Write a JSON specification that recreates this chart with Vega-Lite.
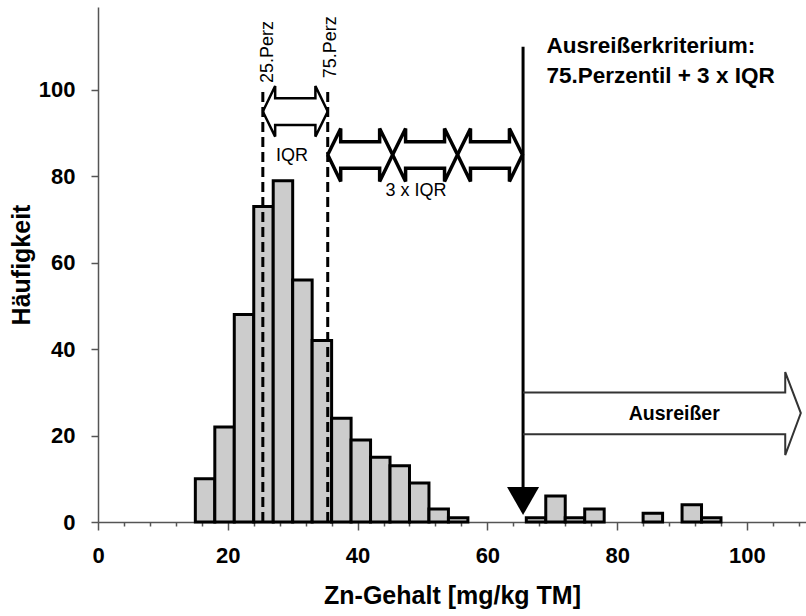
{
  "$schema": "https://vega.github.io/schema/vega-lite/v6.json",
  "autosize": {"type": "none"},
  "padding": {"left": 98, "top": 7, "right": 0, "bottom": 94},
  "width": 708,
  "height": 515,
  "background": "white",
  "config": {
    "view": {"stroke": null},
    "font": "Liberation Sans, Arial, sans-serif",
    "axis": {
      "grid": false,
      "domainColor": "#555555",
      "domainWidth": 1.5,
      "tickColor": "#555555",
      "tickWidth": 1.5,
      "labelFont": "Liberation Sans, Arial, sans-serif",
      "labelFontWeight": "bold",
      "labelFontSize": 22,
      "labelColor": "black",
      "titleFont": "Liberation Sans, Arial, sans-serif",
      "titleFontWeight": "bold",
      "titleFontSize": 25,
      "titleColor": "black"
    },
    "axisX": {"labelPadding": 15, "titlePadding": 17, "labelFlush": false, "labelOverlap": false},
    "axisY": {"tickSize": 7, "labelPadding": 16, "titlePadding": 4}
  },
  "resolve": {"axis": {"x": "independent"}},
  "datasets": {
    "hist": [
      {"lo": 15, "hi": 18, "n": 10},
      {"lo": 18, "hi": 21, "n": 22},
      {"lo": 21, "hi": 24, "n": 48},
      {"lo": 24, "hi": 27, "n": 73},
      {"lo": 27, "hi": 30, "n": 79},
      {"lo": 30, "hi": 33, "n": 56},
      {"lo": 33, "hi": 36, "n": 42},
      {"lo": 36, "hi": 39, "n": 24},
      {"lo": 39, "hi": 42, "n": 19},
      {"lo": 42, "hi": 45, "n": 15},
      {"lo": 45, "hi": 48, "n": 13},
      {"lo": 48, "hi": 51, "n": 9},
      {"lo": 51, "hi": 54, "n": 3},
      {"lo": 54, "hi": 57, "n": 1},
      {"lo": 66, "hi": 69, "n": 1},
      {"lo": 69, "hi": 72, "n": 6},
      {"lo": 72, "hi": 75, "n": 1},
      {"lo": 75, "hi": 78, "n": 3},
      {"lo": 84, "hi": 87, "n": 2},
      {"lo": 90, "hi": 93, "n": 4},
      {"lo": 93, "hi": 96, "n": 1}
    ],
    "perc": [{"x": 25.4, "y": 0, "y2": 100}, {"x": 35.4, "y": 0, "y2": 100}],
    "vline": [{"x": 65.5, "y": 8, "y2": 110}],
    "tri": [{"x": 65.5, "y": 4.86}],
    "iqr": [
      {"id": "a", "i": 0, "x": 25.4, "y": 95.0},
      {"id": "a", "i": 1, "x": 27.3, "y": 100.9},
      {"id": "a", "i": 2, "x": 27.3, "y": 98.1},
      {"id": "a", "i": 3, "x": 33.5, "y": 98.1},
      {"id": "a", "i": 4, "x": 33.5, "y": 100.9},
      {"id": "a", "i": 5, "x": 35.4, "y": 95.0},
      {"id": "a", "i": 6, "x": 33.5, "y": 89.2},
      {"id": "a", "i": 7, "x": 33.5, "y": 91.9},
      {"id": "a", "i": 8, "x": 27.3, "y": 91.9},
      {"id": "a", "i": 9, "x": 27.3, "y": 89.2},
      {"id": "a", "i": 10, "x": 25.4, "y": 95.0}
    ],
    "triple": [
      {"id": "a", "i": 0, "x": 35.4, "y": 85.0},
      {"id": "a", "i": 1, "x": 37.4, "y": 91.1},
      {"id": "a", "i": 2, "x": 37.4, "y": 88.0},
      {"id": "a", "i": 3, "x": 43.4, "y": 88.0},
      {"id": "a", "i": 4, "x": 43.4, "y": 91.1},
      {"id": "a", "i": 5, "x": 45.4, "y": 85.0},
      {"id": "a", "i": 6, "x": 43.4, "y": 78.8},
      {"id": "a", "i": 7, "x": 43.4, "y": 81.9},
      {"id": "a", "i": 8, "x": 37.4, "y": 81.9},
      {"id": "a", "i": 9, "x": 37.4, "y": 78.8},
      {"id": "a", "i": 10, "x": 35.4, "y": 85.0},
      {"id": "b", "i": 0, "x": 45.4, "y": 85.0},
      {"id": "b", "i": 1, "x": 47.4, "y": 91.1},
      {"id": "b", "i": 2, "x": 47.4, "y": 88.0},
      {"id": "b", "i": 3, "x": 53.4, "y": 88.0},
      {"id": "b", "i": 4, "x": 53.4, "y": 91.1},
      {"id": "b", "i": 5, "x": 55.4, "y": 85.0},
      {"id": "b", "i": 6, "x": 53.4, "y": 78.8},
      {"id": "b", "i": 7, "x": 53.4, "y": 81.9},
      {"id": "b", "i": 8, "x": 47.4, "y": 81.9},
      {"id": "b", "i": 9, "x": 47.4, "y": 78.8},
      {"id": "b", "i": 10, "x": 45.4, "y": 85.0},
      {"id": "c", "i": 0, "x": 55.4, "y": 85.0},
      {"id": "c", "i": 1, "x": 57.4, "y": 91.1},
      {"id": "c", "i": 2, "x": 57.4, "y": 88.0},
      {"id": "c", "i": 3, "x": 63.4, "y": 88.0},
      {"id": "c", "i": 4, "x": 63.4, "y": 91.1},
      {"id": "c", "i": 5, "x": 65.4, "y": 85.0},
      {"id": "c", "i": 6, "x": 63.4, "y": 78.8},
      {"id": "c", "i": 7, "x": 63.4, "y": 81.9},
      {"id": "c", "i": 8, "x": 57.4, "y": 81.9},
      {"id": "c", "i": 9, "x": 57.4, "y": 78.8},
      {"id": "c", "i": 10, "x": 55.4, "y": 85.0}
    ],
    "out": [
      {"id": "o", "i": 0, "x": 65.5, "y": 30.0},
      {"id": "o", "i": 1, "x": 105.9, "y": 30.0},
      {"id": "o", "i": 2, "x": 105.9, "y": 34.7},
      {"id": "o", "i": 3, "x": 108.3, "y": 25.2},
      {"id": "o", "i": 4, "x": 105.9, "y": 15.5},
      {"id": "o", "i": 5, "x": 105.9, "y": 20.3},
      {"id": "o", "i": 6, "x": 65.5, "y": 20.3}
    ],
    "perzText": [
      {"label": "25.Perz", "x": 26.2, "y": 108.8},
      {"label": "75.Perz", "x": 35.9, "y": 109.9}
    ],
    "iqrText": [
      {"label": "IQR", "x": 29.9, "y": 84.8},
      {"label": "3 x IQR", "x": 49.0, "y": 76.6}
    ],
    "critText": [
      {"label": "Ausreißerkriterium:", "x": 69.1, "y": 108.6},
      {"label": "75.Perzentil + 3 x IQR", "x": 69.1, "y": 101.6}
    ],
    "outText": [{"label": "Ausreißer", "x": 88.8, "y": 25.0}]
  },
  "layer": [
    {
      "data": {"name": "hist"},
      "mark": {"type": "bar", "fill": "#cccccc", "stroke": "black", "strokeWidth": 3},
      "encoding": {
        "x": {
          "field": "lo", "type": "quantitative",
          "scale": {"domain": [0, 109.1], "nice": false, "zero": false},
          "axis": {
            "orient": "bottom",
            "title": "Zn-Gehalt  [mg/kg TM]",
            "values": [0, 20, 40, 60, 80, 100],
            "tickSize": 8
          }
        },
        "x2": {"field": "hi"},
        "y": {
          "field": "n", "type": "quantitative",
          "scale": {"domain": [0, 119.2], "nice": false},
          "axis": {"title": "Häufigkeit", "values": [0, 20, 40, 60, 80, 100]}
        },
        "y2": {"datum": 0}
      }
    },
    {
      "data": {"name": "perc"},
      "mark": {"type": "rule", "stroke": "black", "strokeWidth": 3, "strokeDash": [10, 5]},
      "encoding": {
        "x": {
          "field": "x", "type": "quantitative",
          "axis": {
            "orient": "bottom",
            "title": null,
            "labels": false,
            "domain": false,
            "tickSize": 4,
            "values": [4, 8, 12, 16, 24, 28, 32, 36, 44, 48, 52, 56, 64, 68, 72, 76, 84, 88, 92, 96, 104, 108]
          }
        },
        "y": {"field": "y", "type": "quantitative"},
        "y2": {"field": "y2"}
      }
    },
    {
      "data": {"name": "vline"},
      "mark": {"type": "rule", "stroke": "black", "strokeWidth": 3},
      "encoding": {
        "x": {"field": "x", "type": "quantitative", "axis": null},
        "y": {"field": "y", "type": "quantitative"},
        "y2": {"field": "y2"}
      }
    },
    {
      "data": {"name": "tri"},
      "mark": {"type": "point", "shape": "M-1,-0.875L1,-0.875L0,0.875Z", "size": 1024, "filled": true, "fill": "black", "opacity": 1, "strokeWidth": 0},
      "encoding": {
        "x": {"field": "x", "type": "quantitative", "axis": null},
        "y": {"field": "y", "type": "quantitative"}
      }
    },
    {
      "data": {"name": "iqr"},
      "mark": {"type": "line", "stroke": "black", "strokeWidth": 2.5, "strokeJoin": "miter", "interpolate": "linear"},
      "encoding": {
        "x": {"field": "x", "type": "quantitative", "axis": null},
        "y": {"field": "y", "type": "quantitative"},
        "detail": {"field": "id"},
        "order": {"field": "i", "type": "quantitative"}
      }
    },
    {
      "data": {"name": "triple"},
      "mark": {"type": "line", "stroke": "black", "strokeWidth": 3.5, "strokeJoin": "miter", "interpolate": "linear"},
      "encoding": {
        "x": {"field": "x", "type": "quantitative", "axis": null},
        "y": {"field": "y", "type": "quantitative"},
        "detail": {"field": "id"},
        "order": {"field": "i", "type": "quantitative"}
      }
    },
    {
      "data": {"name": "out"},
      "mark": {"type": "line", "stroke": "#333333", "strokeWidth": 2, "strokeJoin": "miter", "interpolate": "linear"},
      "encoding": {
        "x": {"field": "x", "type": "quantitative", "axis": null},
        "y": {"field": "y", "type": "quantitative"},
        "detail": {"field": "id"},
        "order": {"field": "i", "type": "quantitative"}
      }
    },
    {
      "data": {"name": "perzText"},
      "mark": {"type": "text", "angle": 270, "align": "center", "baseline": "middle", "fontSize": 18, "fill": "black"},
      "encoding": {
        "x": {"field": "x", "type": "quantitative", "axis": null},
        "y": {"field": "y", "type": "quantitative"},
        "text": {"field": "label"}
      }
    },
    {
      "data": {"name": "iqrText"},
      "mark": {"type": "text", "align": "center", "baseline": "middle", "fontSize": 18, "fill": "black"},
      "encoding": {
        "x": {"field": "x", "type": "quantitative", "axis": null},
        "y": {"field": "y", "type": "quantitative"},
        "text": {"field": "label"}
      }
    },
    {
      "data": {"name": "critText"},
      "mark": {"type": "text", "align": "left", "baseline": "alphabetic", "fontSize": 22.5, "fontWeight": "bold", "fill": "black"},
      "encoding": {
        "x": {"field": "x", "type": "quantitative", "axis": null},
        "y": {"field": "y", "type": "quantitative"},
        "text": {"field": "label"}
      }
    },
    {
      "data": {"name": "outText"},
      "mark": {"type": "text", "align": "center", "baseline": "middle", "fontSize": 19.5, "fontWeight": "bold", "fill": "black"},
      "encoding": {
        "x": {"field": "x", "type": "quantitative", "axis": null},
        "y": {"field": "y", "type": "quantitative"},
        "text": {"field": "label"}
      }
    },
    {
      "mark": {"type": "rule", "stroke": "#555555", "strokeWidth": 1.5},
      "encoding": {"y": {"datum": 119.2}}
    }
  ]
}
